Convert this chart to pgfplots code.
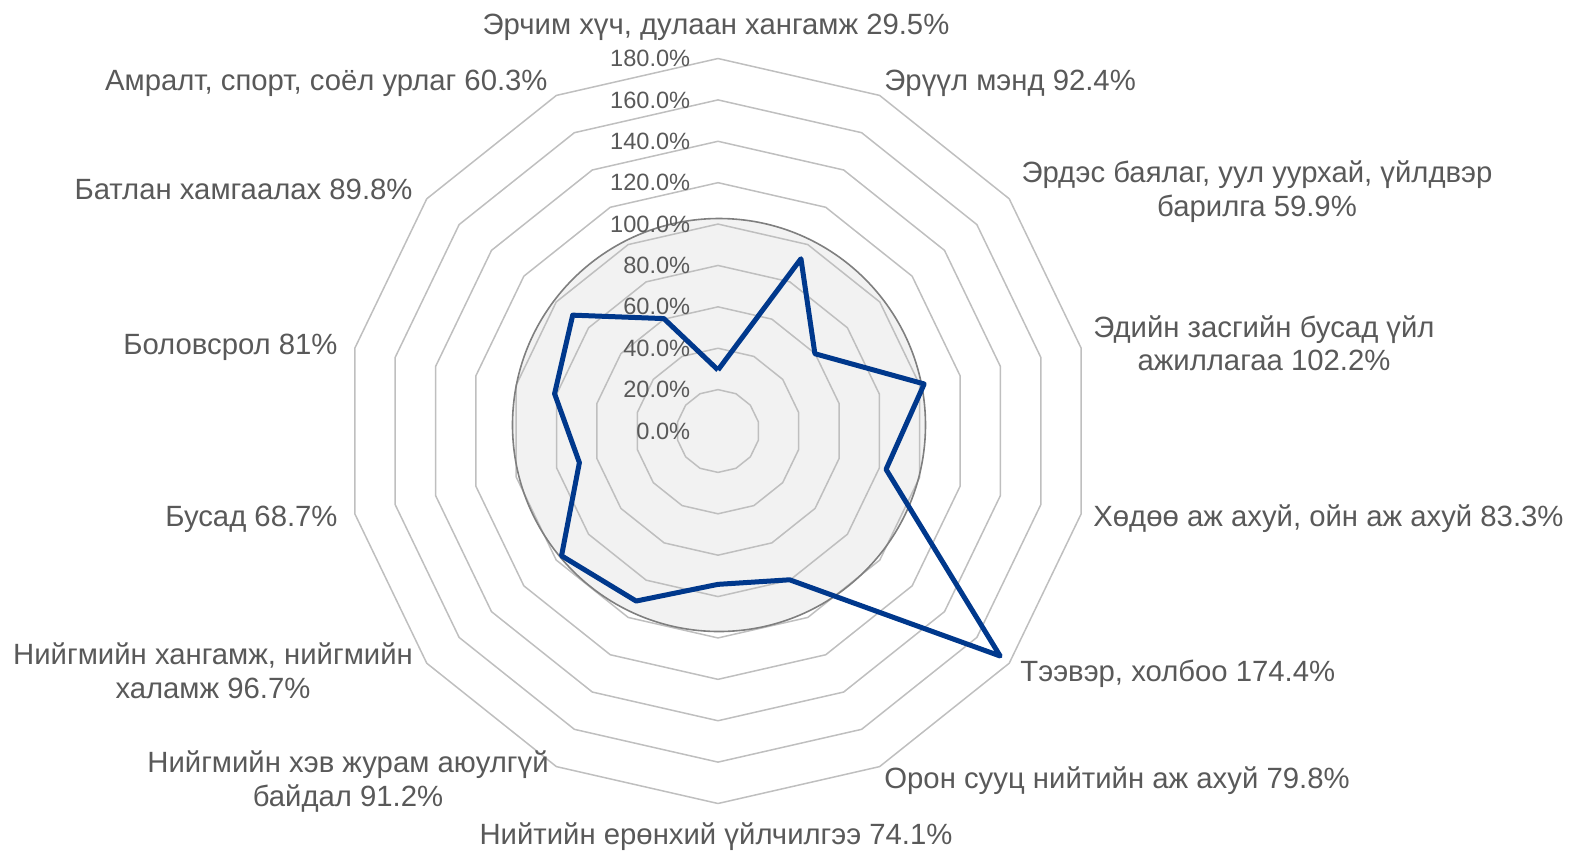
\documentclass[border=0pt]{standalone}
\usepackage{fontspec}
\setmainfont{Liberation Sans}
\usepackage{pgfplots}
\usepackage{pgfplotstable}
\pgfplotsset{compat=1.18}
\usepgfplotslibrary{polar}

\definecolor{txt}{HTML}{595959}
\definecolor{gridc}{HTML}{BFBFBF}
\definecolor{circfill}{HTML}{F2F2F2}
\definecolor{circline}{HTML}{7F7F7F}
\definecolor{serie}{HTML}{00388C}

% share of plan fulfilled, clockwise from the top
\pgfplotstableread{
idx val
0  29.5
1  92.4
2  59.9
3  102.2
4  83.3
5  174.4
6  79.8
7  74.1
8  91.2
9  96.7
10 68.7
11 81.0
12 89.8
13 60.3
14 29.5
}\fulfil

\begin{document}
\begin{tikzpicture}[
  cat/.style={font=\fontsize{14.65}{17}\selectfont, text=txt, inner sep=0pt},
  tck/.style={font=\fontsize{11.8}{14}\selectfont, text=txt, inner sep=0pt, anchor=east, xshift=-13.7pt},
]
\begin{polaraxis}[
  at={(0,0)}, anchor=origin,
  scale only axis, width=372.5pt, height=372.5pt,
  xmin=0, xmax=360, ymin=0, ymax=180,
  hide axis, clip=false,
]
  \fill[circfill] ([xshift=0.5pt,yshift=3pt]axis cs:0,0) circle[radius=103.25pt];
  \pgfplotsinvokeforeach{20,40,60,80,100,120,140,160,180}{
    \addplot[gridc, line width=0.75pt, line join=round]
      table[x expr={90-\thisrow{idx}*360/14}, y expr=#1] {\fulfil};
  }
  \draw[circline, line width=0.8pt] ([xshift=0.5pt,yshift=3pt]axis cs:0,0) circle[radius=103.25pt];
  \pgfplotsinvokeforeach{0,20,40,60,80,100,120,140,160,180}{
    \node[tck] at (axis cs:90,#1) {#1.0\%};
  }
  \addplot[serie, line width=2.5pt, line join=round]
    table[x expr={90-\thisrow{idx}*360/14}, y=val] {\fulfil};
\end{polaraxis}

\node[cat, anchor=base] at (-1pt,198.5pt) {Эрчим хүч, дулаан хангамж 29.5\%};
\node[cat, anchor=base west] at (83pt,170.25pt) {Эрүүл мэнд 92.4\%};
\node[cat, anchor=base] at (269.5pt,124.25pt) {Эрдэс баялаг, уул уурхай, үйлдвэр};
\node[cat, anchor=base] at (269.5pt,107.25pt) {барилга 59.9\%};
\node[cat, anchor=base] at (273pt,46.75pt) {Эдийн засгийн бусад үйл};
\node[cat, anchor=base] at (273pt,30.5pt) {ажиллагаа 102.2\%};
\node[cat, anchor=base west] at (187.5pt,-47.75pt) {Хөдөө аж ахуй, ойн аж ахуй 83.3\%};
\node[cat, anchor=base west] at (151pt,-125.25pt) {Тээвэр, холбоо 174.4\%};
\node[cat, anchor=base west] at (83pt,-178.75pt) {Орон сууц нийтийн аж ахуй 79.8\%};
\node[cat, anchor=base] at (-1pt,-206.75pt) {Нийтийн ерөнхий үйлчилгээ 74.1\%};
\node[cat, anchor=base] at (-185pt,-170.75pt) {Нийгмийн хэв журам аюулгүй};
\node[cat, anchor=base] at (-185pt,-187.75pt) {байдал 91.2\%};
\node[cat, anchor=base] at (-252.5pt,-116.75pt) {Нийгмийн хангамж, нийгмийн};
\node[cat, anchor=base] at (-252.5pt,-133.75pt) {халамж 96.7\%};
\node[cat, anchor=base east] at (-190pt,-47.75pt) {Бусад 68.7\%};
\node[cat, anchor=base east] at (-190pt,38.25pt) {Боловсрол 81\%};
\node[cat, anchor=base east] at (-152.5pt,115.75pt) {Батлан хамгаалах 89.8\%};
\node[cat, anchor=base east] at (-85pt,170.25pt) {Амралт, спорт, соёл урлаг 60.3\%};

\pgfresetboundingbox
\path[use as bounding box] (-359pt,-211pt) rectangle (427pt,215.5pt);
\end{tikzpicture}
\end{document}
